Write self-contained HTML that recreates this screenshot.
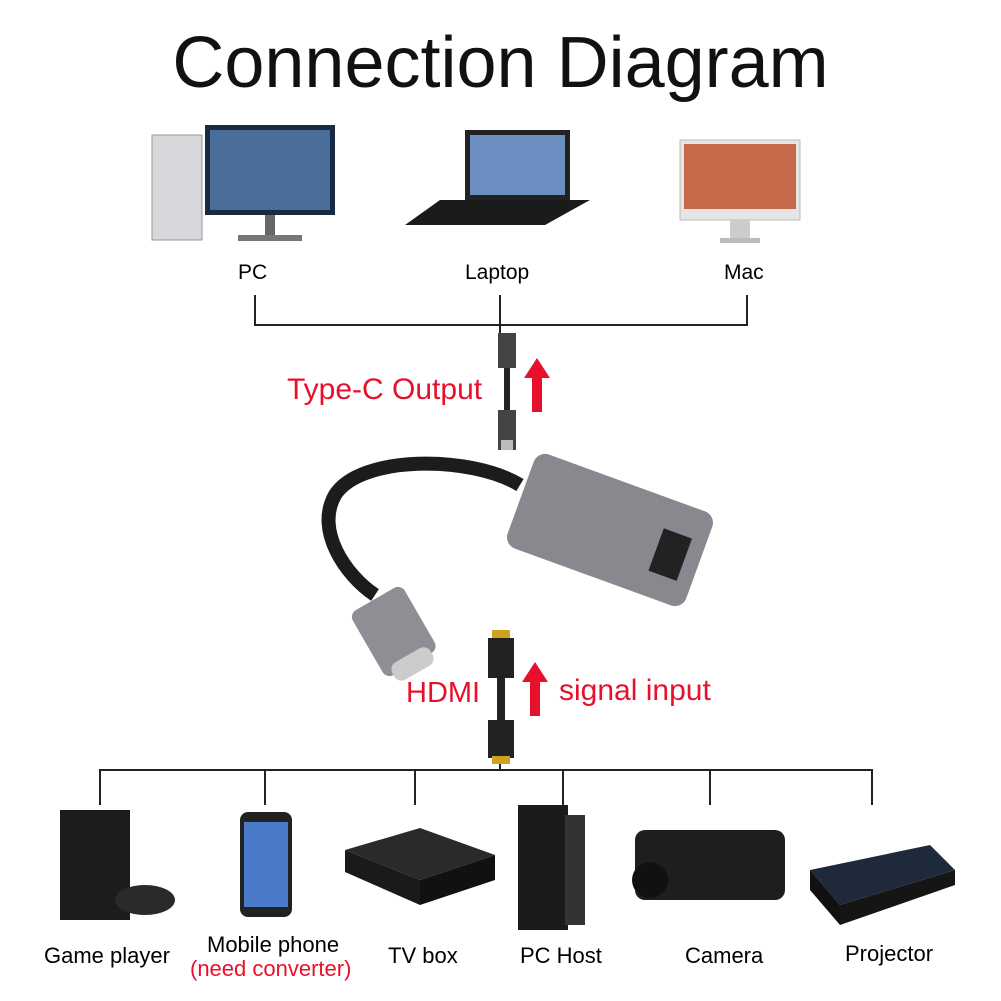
<!DOCTYPE html>
<html><head><style>
body{margin:0;width:1001px;height:1001px;background:#fff;overflow:hidden;font-family:"Liberation Sans",sans-serif;}
.t{position:absolute;white-space:nowrap;}
</style></head><body>
<div class="t" style="left:0;width:1001px;text-align:center;top:22px;font-size:72px;color:#111;">Connection Diagram</div>
<svg width="1001" height="1001" style="position:absolute;left:0;top:0">
<rect x="152" y="135" width="50" height="105" fill="#d8d8dc" stroke="#999"/>
<rect x="205" y="125" width="130" height="90" fill="#1a2a45"/>
<rect x="210" y="130" width="120" height="80" fill="#4a6d9a"/>
<rect x="265" y="215" width="10" height="20" fill="#666"/>
<rect x="238" y="235" width="64" height="6" fill="#777"/>
<rect x="465" y="130" width="105" height="70" fill="#222"/>
<rect x="470" y="135" width="95" height="60" fill="#6a8fc0"/>
<polygon points="440,200 590,200 545,225 405,225" fill="#1b1b1b"/>
<rect x="680" y="140" width="120" height="80" fill="#e5e5e5" stroke="#bbb"/>
<rect x="684" y="144" width="112" height="65" fill="#c46a4a"/>
<rect x="730" y="220" width="20" height="18" fill="#ccc"/>
<rect x="720" y="238" width="40" height="5" fill="#bbb"/>
<g stroke="#222" stroke-width="2" fill="none">
<path d="M255 295 V325 H747 V295 M500 295 V335"/>
<path d="M100 805 V770 H872 V805 M265 770 V805 M415 770 V805 M563 770 V805 M710 770 V805 M500 760 V770"/>
</g>
<rect x="498" y="333" width="18" height="35" fill="#444"/>
<rect x="504" y="368" width="6" height="42" fill="#222"/>
<rect x="498" y="410" width="18" height="40" fill="#444"/>
<rect x="501" y="440" width="12" height="10" fill="#bbb"/>
<polygon points="537,358 550,378 542,378 542,412 532,412 532,378 524,378" fill="#e8102a"/>
<polygon points="535,662 548,682 540,682 540,716 530,716 530,682 522,682" fill="#e8102a"/>
<path d="M520 485 C470 455 360 455 335 495 C315 530 345 575 375 595" stroke="#1c1c1c" stroke-width="14" fill="none"/>
<g transform="rotate(-30 390 625)"><rect x="360" y="595" width="60" height="75" rx="8" fill="#8e8e95"/><rect x="368" y="660" width="44" height="20" rx="8" fill="#ccc"/></g>
<g transform="rotate(20 610 530)"><rect x="515" y="480" width="190" height="100" rx="12" fill="#88888f"/><rect x="660" y="510" width="30" height="45" fill="#222"/></g>
<rect x="492" y="630" width="18" height="8" fill="#d0a020"/>
<rect x="488" y="638" width="26" height="40" fill="#222"/>
<rect x="497" y="678" width="8" height="42" fill="#222"/>
<rect x="488" y="720" width="26" height="38" fill="#222"/>
<rect x="492" y="756" width="18" height="8" fill="#d0a020"/>
<rect x="60" y="810" width="70" height="110" fill="#1c1c1c"/>
<ellipse cx="145" cy="900" rx="30" ry="15" fill="#2a2a2a"/>
<rect x="240" y="812" width="52" height="105" rx="8" fill="#222"/>
<rect x="244" y="822" width="44" height="85" fill="#4a7ac8"/>
<polygon points="345,850 420,828 495,855 420,880" fill="#2a2a2a"/>
<polygon points="345,850 420,880 420,905 345,872" fill="#1a1a1a"/>
<polygon points="420,880 495,855 495,880 420,905" fill="#111"/>
<rect x="518" y="805" width="50" height="125" fill="#1a1a1a"/>
<rect x="565" y="815" width="20" height="110" fill="#333"/>
<rect x="635" y="830" width="150" height="70" rx="10" fill="#1e1e1e"/>
<circle cx="650" cy="880" r="18" fill="#111"/>
<polygon points="810,870 930,845 955,870 840,905" fill="#1e2a3a"/>
<polygon points="810,870 840,905 840,925 810,890" fill="#111"/>
<polygon points="840,905 955,870 955,885 840,925" fill="#151515"/>
</svg>
<div class="t" style="left:238px;top:261px;font-size:21px;">PC</div>
<div class="t" style="left:465px;top:261px;font-size:21px;">Laptop</div>
<div class="t" style="left:724px;top:261px;font-size:21px;">Mac</div>
<div class="t" style="left:287px;top:373px;font-size:30px;color:#e8102a;">Type-C Output</div>
<div class="t" style="left:406px;top:677px;font-size:29px;color:#e8102a;">HDMI</div>
<div class="t" style="left:559px;top:674px;font-size:30px;color:#e8102a;">signal input</div>
<div class="t" style="left:44px;top:943px;font-size:22px;">Game player</div>
<div class="t" style="left:207px;top:932px;font-size:22px;">Mobile phone</div>
<div class="t" style="left:190px;top:956px;font-size:22px;color:#e8102a;">(need converter)</div>
<div class="t" style="left:388px;top:943px;font-size:22px;">TV box</div>
<div class="t" style="left:520px;top:943px;font-size:22px;">PC Host</div>
<div class="t" style="left:685px;top:943px;font-size:22px;">Camera</div>
<div class="t" style="left:845px;top:941px;font-size:22px;">Projector</div>
</body></html>
